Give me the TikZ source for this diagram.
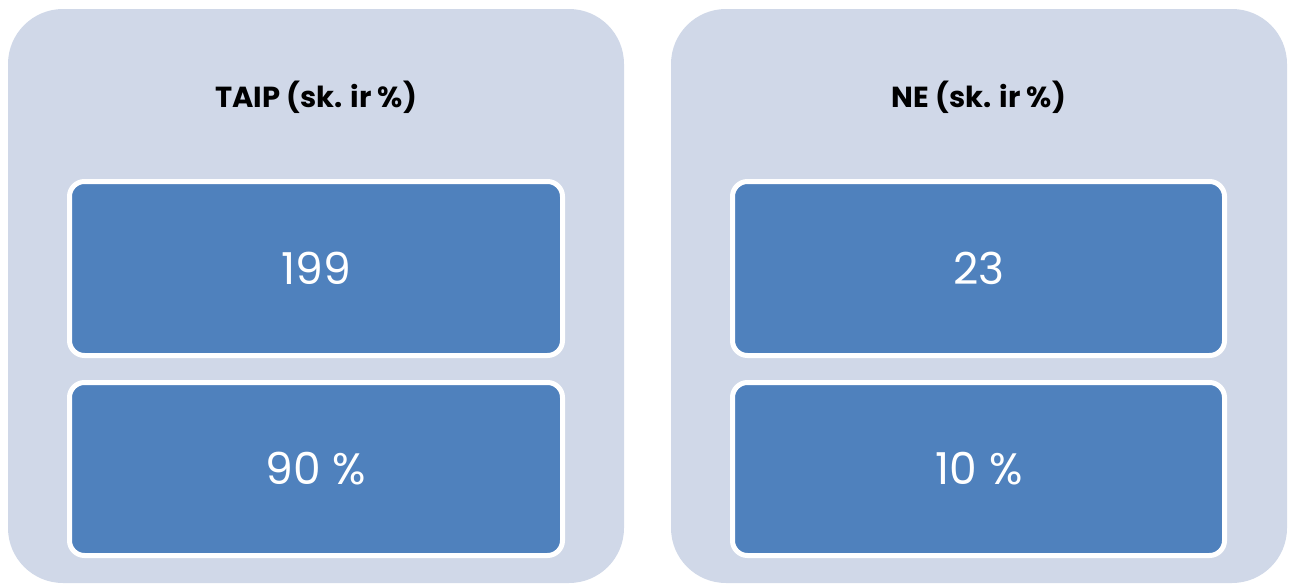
\documentclass[tikz,border=0pt]{standalone}
\usepackage{fontspec}
\setmainfont{Poppins}
\definecolor{outerbg}{HTML}{D0D8E8}
\definecolor{innerbg}{HTML}{4F81BD}
\tikzset{
  panel/.style={fill=outerbg, draw=none, rounded corners=55pt},
  valbox/.style={fill=innerbg, draw=white, line width=5pt, rounded corners=15pt},
  titletext/.style={font=\fontsize{29}{34}\selectfont\bfseries, text=black},
  valtext/.style={font=\fontsize{44}{50}\selectfont, text=white}
}
\begin{document}
\begin{tikzpicture}[x=1pt,y=-1pt]
\useasboundingbox (0,0) rectangle (1293,584);
% panels
\fill[panel] (8,9) rectangle (624,583);
\fill[panel] (671,9) rectangle (1287,583);
% value boxes
\draw[valbox] (69.5,181.5) rectangle (562.5,355.5);
\draw[valbox] (69.5,382.5) rectangle (562.5,555.5);
\draw[valbox] (732.5,181.5) rectangle (1224.5,355.5);
\draw[valbox] (732.5,382.5) rectangle (1224.5,555.5);
% texts
\node[titletext] (t1) at (316,97) {TAIP (sk. ir \%)};
\node[titletext] (t2) at (979,97) {NE (sk. ir \%)};
\node[valtext] (v1) at (316,268) {199};
\node[valtext] (v2) at (316,469) {90 \%};
\node[valtext] (v3) at (979,268) {23};
\node[valtext] (v4) at (979,469) {10 \%};
\end{tikzpicture}
\end{document}
